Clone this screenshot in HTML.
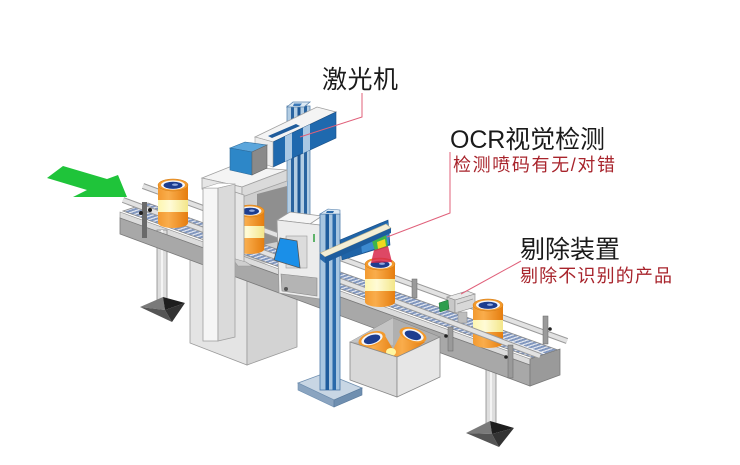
<!DOCTYPE html>
<html><head><meta charset="utf-8">
<style>
html,body{margin:0;padding:0;background:#fff;}
svg{display:block;}
text{font-family:"Liberation Sans","Noto Sans CJK SC",sans-serif;}
</style></head><body>
<svg width="740" height="465" viewBox="0 0 740 465" xmlns="http://www.w3.org/2000/svg">
<defs>
 <pattern id="slat" width="10" height="30" patternUnits="userSpaceOnUse" patternTransform="skewX(-71.57)">
  <rect width="10" height="30" fill="#dde2ec"/>
  <rect width="6" height="30" fill="#8197bf"/>
 </pattern>
 <linearGradient id="org" x1="0" x2="1" y1="0" y2="0">
  <stop offset="0" stop-color="#f39a30"/><stop offset="0.35" stop-color="#f9ad4c"/><stop offset="1" stop-color="#e57d0e"/>
 </linearGradient>
 <linearGradient id="yel" x1="0" x2="1" y1="0" y2="0">
  <stop offset="0" stop-color="#fdf6b0"/><stop offset="0.4" stop-color="#fffbd6"/><stop offset="1" stop-color="#f3e68a"/>
 </linearGradient>
 <g id="can">
  <rect x="-15" y="0" width="30" height="38" fill="url(#org)"/>
  <ellipse cx="0" cy="38" rx="15" ry="5" fill="url(#org)"/>
  <rect x="-15" y="15" width="30" height="12" fill="url(#yel)"/>
  <ellipse cx="0" cy="0" rx="15" ry="6" fill="#f39a2c" stroke="#d27a14" stroke-width="0.5"/>
  <ellipse cx="0" cy="0" rx="12" ry="4.6" fill="#f4f6fa"/>
  <ellipse cx="0" cy="0.3" rx="9.5" ry="3.6" fill="#1d3d8f"/>
  <ellipse cx="2" cy="-0.3" rx="3" ry="1.2" fill="#8fa8de"/>
 </g>
</defs>

<!-- back laser pillar -->
<rect x="287" y="106" width="23" height="170" fill="#b3cde3" stroke="#5b84ad" stroke-width="0.8"/>
<rect x="291" y="106" width="3" height="170" fill="#2a64a0"/>
<rect x="297.5" y="106" width="3" height="170" fill="#1e5896"/>
<rect x="304" y="106" width="3" height="170" fill="#2a64a0"/>
<polygon points="287,107 293,102 310,102 304,107" fill="#dbe8f3" stroke="#5b84ad" stroke-width="0.8"/>
<polygon points="294,103.5 302,103.5 300,106 293,106" fill="#3a78b8"/>

<!-- cabinet lower box -->
<polygon points="190,255 247,276 247,365 190,343" fill="#e4e4e4" stroke="#9a9a9a" stroke-width="0.8"/>
<polygon points="247,276 297,294 297,347 247,365" fill="#d3d3d3" stroke="#9a9a9a" stroke-width="0.8"/>

<!-- tunnel interior -->
<polygon points="240,192 287,178 287,262 240,265" fill="#cfcfcf"/>
<polygon points="257,194 287,186 287,240 257,246" fill="#8f8f8f"/>

<!-- back rails -->
<line x1="143" y1="186" x2="567" y2="341" stroke="#9a9a9a" stroke-width="6"/>
<line x1="143" y1="186" x2="567" y2="341" stroke="#e2e2e2" stroke-width="4"/>

<!-- conveyor belt -->
<polygon points="123,211 533,358 558,350 148,203" fill="url(#slat)" stroke="#8a8a8a" stroke-width="0.8"/>
<line x1="135" y1="207" x2="545" y2="354" stroke="#f0f2f6" stroke-width="1.2"/>
<polygon points="120,212 530,359 530,365 120,218" fill="#dcdcdc" stroke="#8a8a8a" stroke-width="0.6"/>

<line x1="123" y1="200" x2="440" y2="318" stroke="#9a9a9a" stroke-width="6"/>
<line x1="123" y1="200" x2="440" y2="318" stroke="#e2e2e2" stroke-width="4"/>

<!-- cans on conveyor -->
<use href="#can" x="173" y="185"/>
<g transform="translate(250,211) scale(0.95,1)"><use href="#can"/></g>
<use href="#can" x="380" y="264"/>

<!-- right leg (behind conveyor face) -->
<rect x="486" y="362" width="10" height="63" fill="#dedede" stroke="#8a8a8a" stroke-width="0.8"/>
<line x1="491" y1="362" x2="491" y2="425" stroke="#f4f4f4" stroke-width="2"/>
<polygon points="466,433 490,421 492,434" fill="#7a7a7a"/>
<polygon points="490,421 514,428 492,434" fill="#1e1e1e"/>
<polygon points="466,433 492,434 499,447" fill="#555"/>
<polygon points="492,434 514,428 499,447" fill="#333"/>

<!-- left leg -->
<rect x="157" y="230" width="10" height="72" fill="#dedede" stroke="#8a8a8a" stroke-width="0.8"/>
<line x1="162" y1="230" x2="162" y2="302" stroke="#f4f4f4" stroke-width="2"/>
<polygon points="140,307 163,297 165,310" fill="#7a7a7a"/>
<polygon points="163,297 185,303 165,310" fill="#1e1e1e"/>
<polygon points="140,307 165,310 172,322" fill="#555"/>
<polygon points="165,310 185,303 172,322" fill="#333"/>

<!-- conveyor front face -->
<polygon points="120,218 530,365 530,386 120,234" fill="#a8a8a8" stroke="#7a7a7a" stroke-width="0.8"/>
<polygon points="530,359 560,349 560,375 530,386" fill="#9a9a9a" stroke="#7a7a7a" stroke-width="0.8"/>

<!-- left post -->
<rect x="142" y="202" width="5" height="36" fill="#6a6a6a"/>
<circle cx="141" cy="213" r="2" fill="#222"/>
<circle cx="150" cy="210" r="2" fill="#222"/>

<!-- portal slab -->
<polygon points="202,178 232,166 287,170 242,187" fill="#f4f4f4" stroke="#a0a0a0" stroke-width="0.8"/>
<polygon points="202,178 242,187 242,197 202,189" fill="#e6e6e6" stroke="#a0a0a0" stroke-width="0.8"/>
<polygon points="242,187 287,170 287,181 242,197" fill="#dadada" stroke="#a0a0a0" stroke-width="0.8"/>
<!-- right column -->
<polygon points="235,192 244,195 244,262 235,259" fill="#e6e6e6" stroke="#9a9a9a" stroke-width="0.8"/>
<polygon points="232,258 246,262 252,266 238,266" fill="#cfcfcf" stroke="#9a9a9a" stroke-width="0.6"/>
<!-- front pillar -->
<rect x="203" y="188" width="15" height="153" fill="#f6f6f6" stroke="#a0a0a0" stroke-width="0.8"/>
<polygon points="218,188 235,184 235,337 218,341" fill="#dadada" stroke="#a0a0a0" stroke-width="0.8"/>
<polygon points="203,188 219,183 235,184 218,188" fill="#ffffff" stroke="#a0a0a0" stroke-width="0.6"/>

<!-- laser beam -->
<polygon points="255,137 317,107 336,112 273,142" fill="#f4f4f4" stroke="#a0a0a0" stroke-width="0.8"/>
<polygon points="268,136 296,124 300,126 272,138" fill="#1f5c9c"/>
<polygon points="273,142 336,112 336,138 273,167" fill="#1f69ae" stroke="#1a4f86" stroke-width="0.6"/>
<polygon points="285,136.3 292,133 292,158.3 285,161.5" fill="#a9c8e4"/>
<polygon points="303,127.7 310,124.4 310,150 303,153.2" fill="#a9c8e4"/>
<polygon points="255,137 273,142 273,167 255,161" fill="#ececec" stroke="#a0a0a0" stroke-width="0.6"/>
<!-- laser head box -->
<polygon points="230,148 245,142 267,145 252,152" fill="#5ba6dc" stroke="#2d6a9a" stroke-width="0.6"/>
<polygon points="230,148 252,152 252,175 230,170" fill="#2d87c8" stroke="#2d6a9a" stroke-width="0.6"/>
<polygon points="252,152 267,145 267,168 252,175" fill="#8a8a8a" stroke="#666" stroke-width="0.6"/>

<!-- display box -->
<polygon points="277,220 290,212 322,216 310,224" fill="#f6f6f6" stroke="#999" stroke-width="0.8"/>
<polygon points="277,220 320,225 320,299 279,293" fill="#ececec" stroke="#999" stroke-width="0.8"/>
<rect x="286" y="236" width="21" height="32" fill="#dcdcdc" stroke="#999" stroke-width="0.6"/>
<polygon points="280,238 297,241 300,268 274,260" fill="#1a8fe8" stroke="#555" stroke-width="0.8"/>
<polygon points="281,274 317,278 317,296 282,291" fill="#b4b4b4" stroke="#888" stroke-width="0.6"/>
<circle cx="286" cy="289" r="2" fill="#555"/>
<rect x="313" y="234" width="2" height="8" fill="#5fb36a"/>

<!-- front blue pillar base -->
<polygon points="298,383 325,373 362,388 334,400" fill="#c8d6e4" stroke="#6f8fb0" stroke-width="0.8"/>
<polygon points="298,383 334,400 334,407 298,390" fill="#8aa4c0" stroke="#6f8fb0" stroke-width="0.6"/>
<polygon points="334,400 362,388 362,395 334,407" fill="#6f8fb0" stroke="#5a7a9c" stroke-width="0.6"/>
<!-- front blue pillar -->
<rect x="320" y="214" width="20" height="176" fill="#a8c6e0" stroke="#4a78a8" stroke-width="0.8"/>
<rect x="325.5" y="214" width="3.5" height="176" fill="#1f5c9c"/>
<rect x="332.5" y="214" width="3.5" height="176" fill="#2a6aaa"/>
<polygon points="320,214 328,209 340,210 340,214" fill="#dbe8f3" stroke="#4a78a8" stroke-width="0.6"/>
<polygon points="327,211 334,211 333,213 326,213" fill="#2a6aaa"/>

<!-- camera housing -->
<polygon points="340,240 388,220 390,245 342,260" fill="#1f64a8" stroke="#174e86" stroke-width="0.6"/>
<polygon points="360,235 388,223 389,244 362,253" fill="#3c8ad0"/>
<!-- camera -->
<polygon points="372,241 386,235 388,247 375,251" fill="#3fb54a"/>
<polygon points="377,242 385,239 386,246 378,249" fill="#f0d81e"/>
<polygon points="374,250 388,246 392,262 371,263" fill="#d8284a" opacity="0.85"/>
<!-- crossbar -->
<polygon points="320,253 386,224 391,228 325,257" fill="#f3eed6" stroke="#b8ae88" stroke-width="0.6"/>
<polygon points="325,257 391,228 391,233 325,263" fill="#1d5d9e"/>
<polygon points="320,253 325,257 325,263 320,259" fill="#2a6aaa"/>

<!-- box with cans -->
<polygon points="350,342 393,318 440,337 397,357" fill="#b0b0b0" stroke="#888" stroke-width="0.6"/>
<polygon points="350,342 393,318 393,345" fill="#c4c4c4"/>
<polygon points="360,344 384,334 397,356 380,362" fill="url(#org)"/>
<g transform="translate(372,339) rotate(-18)">
 <ellipse cx="0" cy="0" rx="14" ry="7" fill="#f39a2c"/>
 <ellipse cx="0" cy="0" rx="11" ry="5.5" fill="#f4f6fa"/>
 <ellipse cx="0" cy="0.3" rx="8.5" ry="4.2" fill="#1d3d8f"/>
</g>
<polygon points="402,332 425,342 400,360 390,355" fill="url(#org)"/>
<ellipse cx="391" cy="352" rx="5" ry="4" fill="#fff6a0"/>
<g transform="translate(413,335) rotate(18)">
 <ellipse cx="0" cy="0" rx="14" ry="7" fill="#f39a2c"/>
 <ellipse cx="0" cy="0" rx="11" ry="5.5" fill="#f4f6fa"/>
 <ellipse cx="0" cy="0.3" rx="8.5" ry="4.2" fill="#1d3d8f"/>
</g>
<polygon points="350,342 397,357 397,397 350,380" fill="#d8d8d8" stroke="#888" stroke-width="0.8"/>
<polygon points="397,357 440,337 440,377 397,397" fill="#e6e6e6" stroke="#888" stroke-width="0.8"/>

<!-- reject device -->
<polygon points="447,297 467,291 475,294 455,300" fill="#e8e8e8" stroke="#888" stroke-width="0.6"/>
<polygon points="447,297 455,300 455,313 447,310" fill="#c8c8c8" stroke="#888" stroke-width="0.6"/>
<polygon points="455,300 475,294 475,307 455,313" fill="#d8d8d8" stroke="#888" stroke-width="0.6"/>
<line x1="457" y1="304" x2="473" y2="299" stroke="#999" stroke-width="0.8"/>
<polygon points="439,303 448,300 449,309 440,312" fill="#2e9e4e" stroke="#1e6e34" stroke-width="0.5"/>
<rect x="458" y="312" width="9" height="11" fill="#bdbdbd" stroke="#888" stroke-width="0.5"/>

<!-- back posts -->
<rect x="412" y="279" width="5" height="19" fill="#9a9a9a" stroke="#666" stroke-width="0.5"/>
<rect x="543" y="316" width="5" height="28" fill="#9a9a9a" stroke="#666" stroke-width="0.5"/>
<circle cx="550" cy="329" r="1.8" fill="#222"/>

<!-- can D -->
<use href="#can" x="488" y="305"/>

<!-- front rail right -->
<line x1="440" y1="318" x2="540" y2="356" stroke="#9a9a9a" stroke-width="6"/>
<line x1="440" y1="318" x2="540" y2="356" stroke="#e2e2e2" stroke-width="4"/>
<rect x="448" y="327" width="5" height="24" fill="#9a9a9a" stroke="#666" stroke-width="0.5"/>
<circle cx="446" cy="336" r="1.8" fill="#222"/>
<rect x="508" y="345" width="5" height="33" fill="#9a9a9a" stroke="#666" stroke-width="0.5"/>
<circle cx="506" cy="357" r="1.8" fill="#222"/>

<!-- green arrow -->
<polygon points="47,178 63,166 107,179 118,175 127,197 73,197 87,190" fill="#1fc43a"/>

<!-- callout lines -->
<polyline points="362,93 362,117 300,137" fill="none" stroke="#e0607a" stroke-width="1"/>
<polyline points="450,152 450,213 387,237" fill="none" stroke="#e0607a" stroke-width="1"/>
<polyline points="521,261 461,294" fill="none" stroke="#e0607a" stroke-width="1"/>

<!-- labels -->
<text x="322" y="88" font-size="25" fill="#1a1a1a" textLength="76">激光机</text>
<text x="450" y="148" font-size="25" fill="#1a1a1a" textLength="155">OCR视觉检测</text>
<text x="453" y="171" font-size="18" fill="#a8242c" textLength="162">检测喷码有无/对错</text>
<text x="520" y="258" font-size="25" fill="#1a1a1a" textLength="100">剔除装置</text>
<text x="520" y="282" font-size="18" fill="#a8242c" textLength="152">剔除不识别的产品</text>
</svg>
</body></html>
